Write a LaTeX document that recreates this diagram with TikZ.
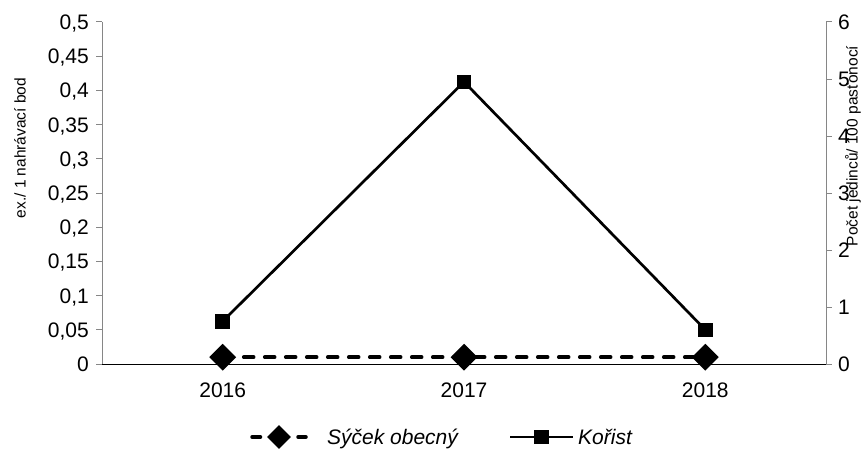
\documentclass[tikz,border=0pt]{standalone}
\usepackage{fontspec}
\setmainfont{Liberation Sans}
\usetikzlibrary{positioning,calc,shapes.geometric}

\definecolor{axisgray}{HTML}{868686}

\tikzset{
  ticklabel/.style={font=\fontsize{21}{25}\selectfont, inner sep=0pt},
  axistitle/.style={font=\fontsize{15.5}{18}\selectfont, rotate=90, inner sep=0pt},
  legendlabel/.style={font=\fontsize{21}{25}\selectfont\itshape, inner sep=0pt, anchor=base west},
  owlline/.style={line width=3.5pt, dash pattern=on 10pt off 11pt, line cap=round},
  preyline/.style={line width=2.7pt},
  owlmark/.style={diamond, fill=black, inner sep=0pt, minimum width=27pt, minimum height=27pt},
  preymark/.style={rectangle, fill=black, inner sep=0pt, minimum size=14.5pt}
}

\begin{document}
\begin{tikzpicture}[x=1pt, y=-1pt]
    \useasboundingbox (0,0) rectangle (861,452);
    \def\Xl{102}
    \def\Xr{826}
    \def\Yz{364}
    \def\Ytop{22}
    % left axis: ex./ 1 nahravaci bod
    \draw[axisgray, line width=1pt] (\Xl,\Ytop) -- (\Xl,\Yz);
    \foreach \i/\lab in {0/0, 1/{0,05}, 2/{0,1}, 3/{0,15}, 4/{0,2}, 5/{0,25},
                         6/{0,3}, 7/{0,35}, 8/{0,4}, 9/{0,45}, 10/{0,5}} {
      \draw[axisgray, line width=1pt] (\Xl-6,{\Yz-\i*34.2}) -- (\Xl,{\Yz-\i*34.2});
      \node[ticklabel, anchor=base east] (l\i) at (89,{\Yz-\i*34.2+7.5}) {\lab};
    }
    % right axis: pocet jedincu
    \draw[axisgray, line width=1pt] (\Xr,\Ytop) -- (\Xr,\Yz);
    \foreach \i in {0,...,6} {
      \draw[axisgray, line width=1pt] (\Xr,{\Yz-\i*57}) -- (\Xr+6,{\Yz-\i*57});
      \node[ticklabel, anchor=base west] (r\i) at (838,{\Yz-\i*57+7.5}) {\i};
    }
    % category axis
    \draw[black, line width=1pt] (\Xl,\Yz) -- (\Xr,\Yz);
    \node[axistitle] (ltitle) at (20,148) {ex./ 1 nahrávací bod};
    \node[axistitle] (rtitle) at (853,146) {Počet jedinců/ 100 pasťonocí};

    \foreach \yr/\cx/\owl/\prey in {2016/222.7/0.01/0.75, 2017/464/0.01/4.95, 2018/705.3/0.01/0.6} {
      \node[ticklabel] (yr\yr) at (\cx,390) {\yr};
      \coordinate (owl\yr) at (\cx,{\Yz-\owl*684});
      \coordinate (prey\yr) at (\cx,{\Yz-\prey*57});
    }
    \draw[owlline] (owl2016) -- (owl2017) -- (owl2018);
    \foreach \yr in {2016,2017,2018}
      \node[owlmark] (om\yr) at (owl\yr) {};
    \draw[preyline] (prey2016) -- (prey2017) -- (prey2018);
    \foreach \yr in {2016,2017,2018}
      \node[preymark] (pm\yr) at (prey\yr) {};

    % legend
    \coordinate (owlA) at (252,437);
    \coordinate (owlB) at (306,437);
    \draw[owlline, dash pattern=on 8.5pt off 37.5pt] (owlA) -- (owlB);
    \node[owlmark, minimum width=24pt, minimum height=24pt] (owlkey) at ($(owlA)!0.5!(owlB)$) {};
    \node[legendlabel] (owltext) at (327,444.5) {Sýček obecný};
    \coordinate (preyA) at (510,437);
    \coordinate (preyB) at (573,437);
    \draw[preyline] (preyA) -- (preyB);
    \node[preymark] (preykey) at ($(preyA)!0.5!(preyB)$) {};
    \node[legendlabel] (preytext) at (578,444.5) {Kořist};
  \end{tikzpicture}
\end{document}
